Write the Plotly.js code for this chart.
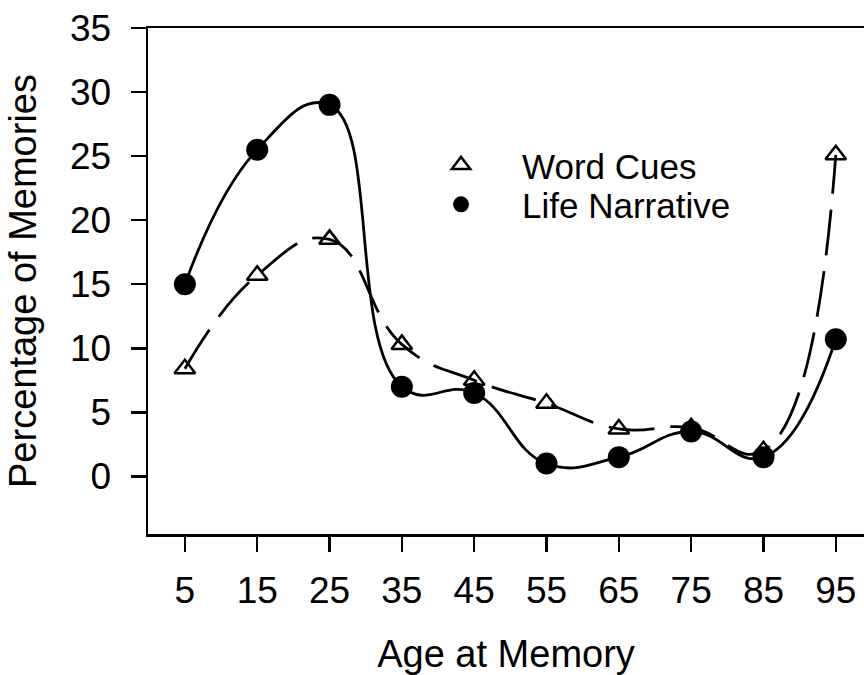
<!DOCTYPE html>
<html>
<head>
<meta charset="utf-8">
<script src="https://cdn.plot.ly/plotly-3.0.1.min.js"></script>
<style>html,body{margin:0;padding:0;background:#fff;}#chart{width:864px;height:675px;}</style>
</head>
<body>
<div id="chart"></div>
<script>
var ages = [5, 15, 25, 35, 45, 55, 65, 75, 85, 95];
var wordCues = [8.4, 15.7, 18.5, 10.3, 7.5, 5.7, 3.7, 3.8, 2.0, 25.1];
var lifeNarrative = [15.0, 25.5, 29.0, 7.0, 6.5, 1.0, 1.5, 3.5, 1.5, 10.7];
var tickVals = [5, 15, 25, 35, 45, 55, 65, 75, 85, 95];
var yTickVals = [0, 5, 10, 15, 20, 25, 30, 35];

var FONT = 'Liberation Sans, Arial, sans-serif';

var traces = [
  {x: ages, y: wordCues, mode: 'lines', line: {shape: 'spline', smoothing: 1.3, color: '#000', width: 2.8, dash: '46px,16px'}, showlegend: false, hoverinfo: 'skip'},
  {x: ages, y: lifeNarrative, mode: 'lines', line: {shape: 'spline', smoothing: 1.3, color: '#000', width: 2.8}, showlegend: false, hoverinfo: 'skip'},
  {x: ages, y: wordCues, mode: 'markers', name: 'Word Cues', legend: 'legend', marker: {symbol: 'triangle-up-open', size: 18, color: '#000', line: {width: 2.5, color: '#000'}}},
  {x: ages, y: lifeNarrative, mode: 'markers', name: 'Life Narrative', legend: 'legend2', marker: {symbol: 'circle', size: 22, color: '#000'}}
];

var legendCommon = {xanchor: 'left', yanchor: 'middle', bgcolor: 'rgba(0,0,0,0)', font: {size: 35, family: FONT}, itemwidth: 112};

var layout = {
  width: 864, height: 675,
  margin: {l: 148, r: 0, t: 28, b: 141},
  paper_bgcolor: '#fff', plot_bgcolor: '#fff',
  font: {family: FONT, color: '#000', size: 36},
  showlegend: true,
  legend: Object.assign({x: 0.352, y: 0.729}, legendCommon),
  legend2: Object.assign({x: 0.352, y: 0.651}, legendCommon),
  xaxis: {
    range: [-0.1, 98.9], tickvals: tickVals, ticktext: tickVals.map(String),
    showgrid: false, zeroline: false, showline: true, mirror: true, linecolor: '#000', linewidth: 2.5,
    ticks: 'outside', ticklen: 15, tickwidth: 2.5, tickcolor: '#000',
    tickfont: {size: 37, family: FONT}, ticklabelstandoff: 7,
    title: {text: 'Age at Memory', font: {size: 38, family: FONT}, standoff: 32}
  },
  yaxis: {
    range: [-4.5, 35], tickvals: yTickVals,
    showgrid: false, zeroline: false, showline: true, linecolor: '#000', linewidth: 2.5,
    ticks: 'outside', ticklen: 15, tickwidth: 2.5, tickcolor: '#000',
    tickfont: {size: 37, family: FONT}, ticklabelstandoff: 12,
    title: {text: 'Percentage of Memories', font: {size: 38, family: FONT}, standoff: 22}
  }
};

Plotly.newPlot('chart', traces, layout, {staticPlot: true});
</script>
</body>
</html>
